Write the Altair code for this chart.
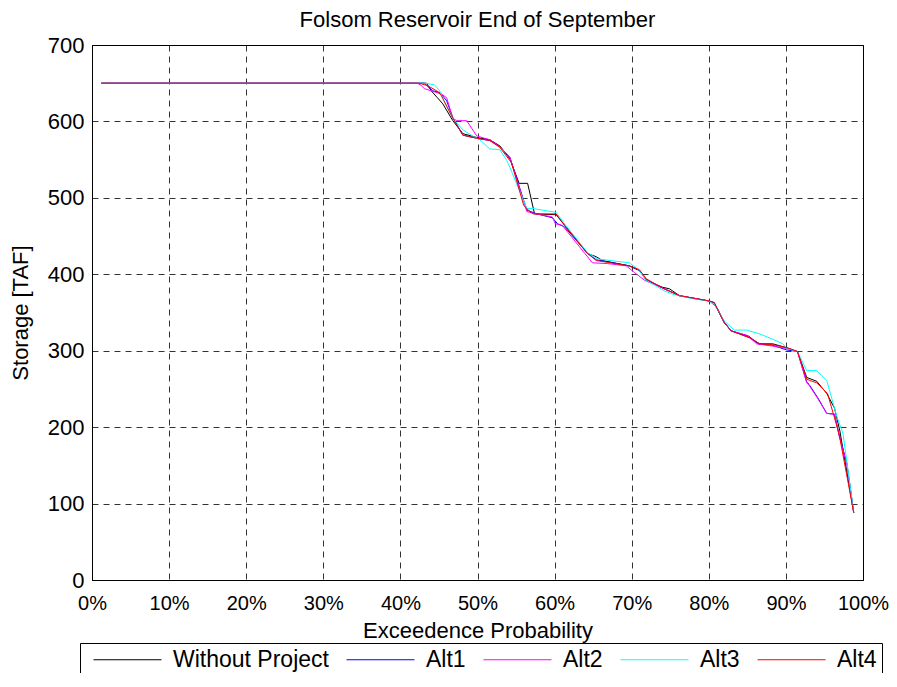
import altair as alt
import pandas as pd

series_names = ["Without Project", "Alt1", "Alt2", "Alt3", "Alt4"]
series_colors = ["#000000", "#0000ff", "#ff00ff", "#00ffff", "#ff0000"]

# Exceedence probability (%) and storage (TAF) break points
wp_p = [1.2, 43.4, 44.0, 44.8, 45.5, 46.8, 48.1, 49.9, 51.6, 52.9, 54.2, 55.4, 56.5, 57.4, 60.2, 61.3, 64.3, 65.4, 66.2, 69.7,
        71.0, 71.9, 74.0, 74.9, 76.2, 78.4, 80.1, 80.7, 82.0, 82.9, 84.0, 85.3, 86.6, 88.3, 90.1, 91.5, 92.7, 94.0, 95.3, 96.3,
        97.0, 98.8]
wp_v = [650, 650, 640, 631, 623, 601, 584, 579, 576, 568, 551, 519, 519, 479, 478, 464, 427, 423, 418, 411,
        405, 392, 383, 381, 372, 368, 365, 363, 337, 326, 322, 317, 309, 309, 304, 299, 265, 260, 244, 225,
        195, 88]

a1_p = [1.2, 43.1, 44.2, 45.1, 46.0, 46.8, 48.1, 49.9, 51.6, 52.9, 54.2, 56.4, 57.7, 59.7, 60.4, 61.3, 64.3, 65.4, 69.7, 71.0,
        71.9, 74.0, 76.2, 78.4, 80.1, 80.7, 82.0, 82.9, 85.2, 86.4, 88.3, 90.1, 91.5, 92.7, 93.0, 94.1, 95.3, 96.3, 96.9, 97.9,
        98.8]
a1_v = [650, 650, 640, 638, 627, 605, 582, 578, 575, 567, 553, 484, 479, 474, 466, 462, 427, 419, 411, 405,
        393, 382, 372, 368, 365, 362, 337, 326, 319, 309, 307, 301, 299, 259, 256, 239, 218, 217, 190, 153,
        88]

a2_p = [1.2, 42.2, 42.7, 43.1, 44.0, 45.3, 46.0, 46.8, 47.3, 48.6, 49.9, 51.6, 52.9, 54.2, 56.4, 57.7, 59.7, 60.1, 61.0, 64.9,
        66.9, 69.3, 70.4, 71.7, 74.0, 76.2, 78.4, 80.1, 81.1, 82.0, 82.9, 85.0, 86.2, 88.3, 90.1, 91.5, 92.7, 93.0, 94.1, 95.3,
        96.3, 96.9, 97.9, 98.8]
a2_v = [650, 650, 647, 643, 640, 636, 631, 604, 601, 601, 581, 576, 567, 553, 482, 479, 475, 466, 464, 415,
        414, 411, 402, 392, 382, 372, 368, 365, 356, 337, 326, 320, 309, 306, 303, 299, 258, 255, 238, 218,
        217, 189, 152, 88]

a3_p = [1.2, 43.2, 44.4, 45.1, 45.5, 46.8, 48.1, 49.5, 50.2, 51.6, 52.9, 53.8, 54.2, 56.4, 57.2, 60.2, 61.3, 64.3, 65.6, 69.7,
        71.0, 71.9, 74.3, 75.3, 77.9, 80.0, 80.7, 82.0, 83.3, 84.9, 86.6, 88.3, 89.6, 90.1, 91.5, 92.7, 94.0, 95.3, 96.6, 97.4,
        98.8]
a3_v = [650, 650, 648, 640, 630, 604, 589, 580, 577, 564, 563, 549, 540, 486, 486, 481, 466, 428, 420, 415,
        405, 392, 378, 374, 368, 365, 361, 339, 327, 327, 322, 315, 309, 303, 299, 274, 274, 261, 214, 192,
        88]

a4_p = [1.2, 42.4, 43.5, 44.7, 45.3, 46.6, 48.1, 49.9, 51.6, 52.9, 54.4, 56.0, 56.8, 57.2, 60.2, 61.3, 64.2, 65.4, 69.7, 71.0,
        71.9, 74.0, 76.2, 78.4, 80.1, 80.7, 82.0, 82.9, 85.3, 86.6, 88.3, 90.1, 91.5, 92.7, 93.1, 94.0, 95.4, 96.9, 98.8]
a4_v = [650, 650, 647, 640, 634, 608, 582, 578, 575, 566, 546, 490, 482, 479, 479, 464, 428, 418, 411, 406,
        394, 382, 372, 368, 365, 363, 337, 326, 317, 309, 308, 304, 299, 263, 261, 258, 244, 191, 88]

x_ticks = list(range(0, 101, 10))
y_ticks = list(range(0, 701, 100))

all_p = [wp_p, a1_p, a2_p, a3_p, a4_p]
all_v = [wp_v, a1_v, a2_v, a3_v, a4_v]
rows = []
for name, ps, vs in zip(series_names, all_p, all_v):
    for p, v in zip(ps, vs):
        rows.append({"series": name, "p": p, "storage": v})
df = pd.DataFrame(rows)

FONT = "Liberation Sans"

x_enc = alt.X("p:Q",
              scale=alt.Scale(domain=[0, 100], nice=False),
              axis=alt.Axis(values=x_ticks, labelExpr="datum.value + '%'",
                            title="Exceedence Probability", labelOverlap=False, labelFlush=False,
                            labelFontSize=20, labelPadding=13, titlePadding=7))
y_enc = alt.Y("storage:Q",
              scale=alt.Scale(domain=[0, 700], nice=False),
              axis=alt.Axis(values=y_ticks, title="Storage [TAF]", labelOverlap=False, labelFlush=False,
                            labelPadding=8, titlePadding=15))
color_enc = alt.Color("series:N",
                      scale=alt.Scale(domain=series_names, range=series_colors),
                      legend=alt.Legend(title=None, orient="none", legendX=-12, legendY=598,
                                        direction="horizontal", columns=5,
                                        symbolType="stroke", symbolSize=4624, symbolStrokeWidth=1,
                                        clipHeight=23, symbolOffset=8,
                                        labelFont=FONT, labelFontSize=23, labelColor="black",
                                        labelLimit=400, labelOffset=11, columnPadding=9,
                                        padding=5, strokeColor="black", fillColor="white",
                                        cornerRadius=0))

layers = []
for name in series_names:
    layers.append(
        alt.Chart(df)
        .transform_filter(alt.datum.series == name)
        .mark_line(strokeWidth=1, clip=True)
        .encode(x=x_enc, y=y_enc, color=color_enc)
    )

chart = (
    alt.layer(*layers)
    .properties(
        width=771,
        height=535,
        title=alt.Title("Folsom Reservoir End of September", font=FONT, fontSize=22,
                        fontWeight="normal", color="black", anchor="middle", frame="group",
                        offset=2),
        padding={"left": 84, "top": 37, "right": 26, "bottom": 93},
        autosize=alt.AutoSizeParams(type="none"),
        background="white",
    )
    .configure_view(stroke="black", strokeWidth=1)
    .configure_axis(domainColor="black", domainWidth=1,
                    grid=True, gridColor="#000000", gridDash=[6, 5], gridOpacity=0.8, gridWidth=1,
                    ticks=False, tickSize=0,
                    labelFont=FONT, labelFontSize=22, labelColor="black",
                    titleFont=FONT, titleFontSize=22, titleFontWeight="normal", titleColor="black")
)

chart.save("out.html", embed_options={"renderer": "svg", "actions": False})
